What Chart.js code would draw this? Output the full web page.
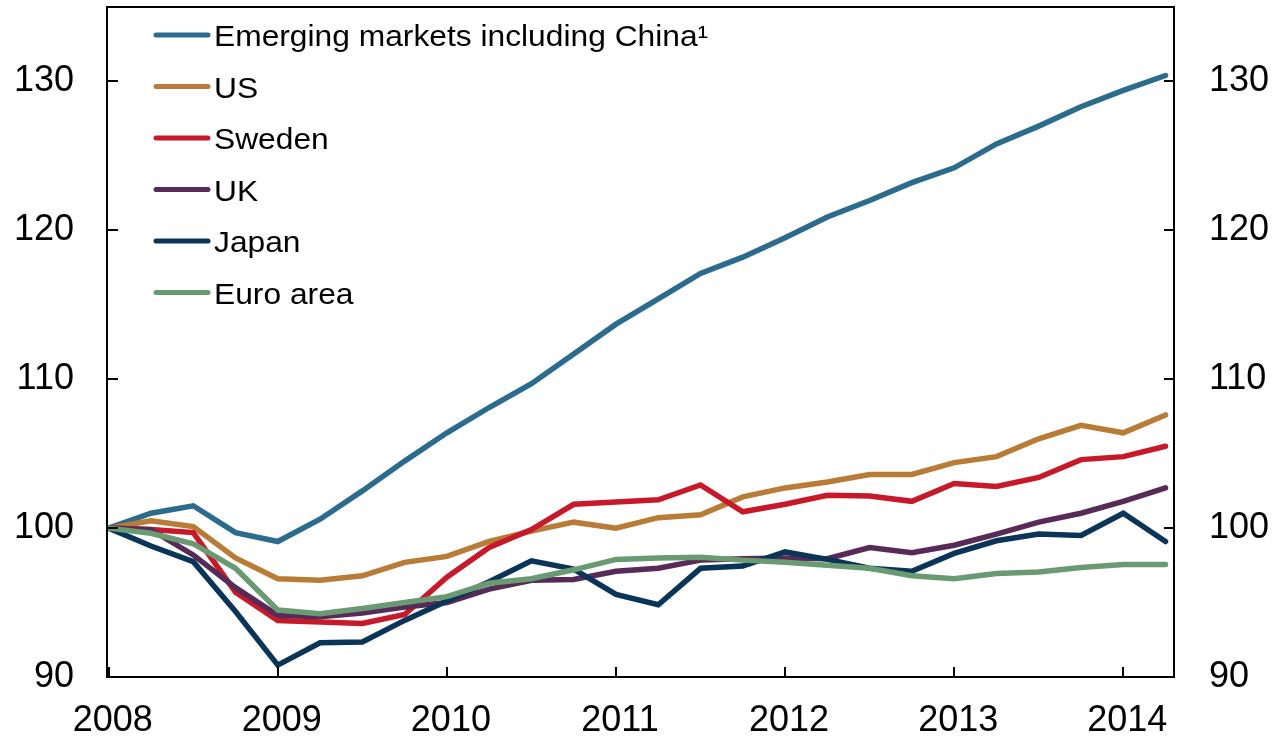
<!DOCTYPE html>
<html>
<head>
<meta charset="utf-8">
<script src="https://cdn.jsdelivr.net/npm/chart.js@4"></script>
<style>
  body { margin: 0; background: #fff; }
  #wrap { width: 1276px; height: 741px; position: relative; }
</style>
</head>
<body>
<div id="wrap"><canvas id="chart"></canvas></div>
<script>
const quarters = [
  "2008Q1", "2008Q2", "2008Q3", "2008Q4", "2009Q1", "2009Q2", "2009Q3", "2009Q4",
  "2010Q1", "2010Q2", "2010Q3", "2010Q4", "2011Q1", "2011Q2", "2011Q3", "2011Q4",
  "2012Q1", "2012Q2", "2012Q3", "2012Q4", "2013Q1", "2013Q2", "2013Q3", "2013Q4",
  "2014Q1", "2014Q2"
];
const yearTicks = [2008, 2009, 2010, 2011, 2012, 2013, 2014];
const valueTicks = [90, 100, 110, 120, 130];

const emerging = [100, 101.0, 101.5, 99.7, 99.1, 100.6, 102.5, 104.5, 106.4, 108.1, 109.7, 111.7, 113.7,
  115.4, 117.1, 118.2, 119.5, 120.9, 122.0, 123.2, 124.2, 125.8, 127.0, 128.3, 129.4, 130.4];
const us = [100, 100.5, 100.1, 98.0, 96.6, 96.5, 96.8, 97.7, 98.1, 99.1, 99.8, 100.4, 100.0,
  100.7, 100.9, 102.1, 102.7, 103.1, 103.6, 103.6, 104.4, 104.8, 106.0, 106.9, 106.4, 107.6];
const sweden = [100, 99.9, 99.7, 95.7, 93.8, 93.7, 93.6, 94.2, 96.7, 98.7, 99.9, 101.6, 101.75,
  101.9, 102.9, 101.1, 101.6, 102.2, 102.15, 101.8, 103.0, 102.8, 103.4, 104.6, 104.8, 105.5];
const uk = [100, 99.9, 98.2, 96.0, 94.15, 94.05, 94.3, 94.7, 95.0, 95.9, 96.5, 96.55, 97.1,
  97.3, 97.85, 97.95, 98.0, 97.95, 98.7, 98.35, 98.85, 99.6, 100.4, 101.0, 101.8, 102.7];
const japan = [100, 98.8, 97.75, 94.4, 90.8, 92.3, 92.35, 93.8, 95.1, 96.4, 97.8, 97.25, 95.55,
  94.85, 97.3, 97.45, 98.4, 97.9, 97.3, 97.1, 98.3, 99.15, 99.6, 99.5, 101.0, 99.1];
const euro = [100, 99.65, 98.95, 97.3, 94.5, 94.25, 94.6, 95.0, 95.4, 96.3, 96.6, 97.2, 97.9,
  98.0, 98.05, 97.85, 97.7, 97.5, 97.3, 96.8, 96.6, 96.95, 97.05, 97.35, 97.55, 97.55];

const seriesNames = ["Emerging markets including China\u00B9", "US", "Sweden", "UK", "Japan", "Euro area"];
const seriesData = [emerging, us, sweden, uk, japan, euro];
const seriesColors = ["#2b6b8e", "#b87c36", "#c8192b", "#572a58", "#0b3558", "#6a9a72"];

const FONT = "'Liberation Sans', Arial, sans-serif";

// quarter label -> position on the year axis
function quarterPos(q) {
  return parseInt(q.slice(0, 4)) + (parseInt(q.slice(5)) - 1) / 4;
}

function noPadding(s) {
  s.paddingTop = 0;
  s.paddingBottom = 0;
  s.paddingLeft = 0;
  s.paddingRight = 0;
}

const frameAndLegend = {
  id: "frameAndLegend",
  afterDraw(chart) {
    const ctx = chart.ctx;
    const a = chart.chartArea;
    const x = chart.scales.x;
    const y = chart.scales.y;
    ctx.save();
    ctx.strokeStyle = "#000";
    ctx.lineWidth = 2;
    ctx.strokeRect(a.left, a.top, a.right - a.left, a.bottom - a.top);

    // inward tick marks
    ctx.beginPath();
    valueTicks.forEach((v) => {
      const py = Math.round(y.getPixelForValue(v));
      ctx.moveTo(a.left, py);
      ctx.lineTo(a.left + 11, py);
      ctx.moveTo(a.right, py);
      ctx.lineTo(a.right - 10, py);
    });
    yearTicks.forEach((v) => {
      const px = Math.round(x.getPixelForValue(v));
      ctx.moveTo(px, a.bottom);
      ctx.lineTo(px, a.bottom - 10);
    });
    ctx.stroke();

    // legend
    ctx.font = "29px " + FONT;
    ctx.textBaseline = "alphabetic";
    ctx.textAlign = "left";
    ctx.lineCap = "round";
    seriesNames.forEach((name, i) => {
      const ly = 35 + i * 51.5;
      ctx.strokeStyle = seriesColors[i];
      ctx.lineWidth = 5;
      ctx.beginPath();
      ctx.moveTo(156, ly);
      ctx.lineTo(208, ly);
      ctx.stroke();
      ctx.fillStyle = "#000";
      ctx.save();
      ctx.translate(214, ly + 11);
      ctx.scale(1.095, 1);
      ctx.fillText(name, 0, 0);
      ctx.restore();
    });
    ctx.restore();
  },
};

const tickFont = { family: FONT, size: 36 };

new Chart(document.getElementById("chart"), {
  type: "line",
  data: {
    datasets: seriesNames.map((name, i) => ({
      label: name,
      data: quarters.map((q, j) => ({ x: quarterPos(q), y: seriesData[i][j] })),
      borderColor: seriesColors[i],
      backgroundColor: seriesColors[i],
      borderWidth: 5.5,
      pointRadius: 0,
      tension: 0,
      fill: false,
      borderCapStyle: "round",
      order: i === 0 ? 6 : 6 - i,
    })),
  },
  options: {
    responsive: true,
    maintainAspectRatio: false,
    animation: false,
    layout: { padding: { top: 7, left: 0, right: 0, bottom: 0 } },
    plugins: {
      legend: { display: false },
      tooltip: { enabled: false },
    },
    scales: {
      x: {
        type: "linear",
        min: 2007.99,
        max: 2014.3,
        grid: { display: false, drawTicks: false },
        border: { display: false },
        afterBuildTicks: (s) => {
          s.ticks = yearTicks.map((v) => ({ value: v }));
        },
        afterFit: (s) => {
          s.height = 64;
          noPadding(s);
        },
        ticks: {
          font: tickFont,
          color: "#000",
          padding: 22,
          labelOffset: 4,
          maxRotation: 0,
          autoSkip: false,
          callback: (v) => String(v),
        },
      },
      y: {
        position: "left",
        min: 90,
        max: 135,
        grid: { display: false, drawTicks: false },
        border: { display: false },
        afterBuildTicks: (s) => {
          s.ticks = valueTicks.map((v) => ({ value: v }));
        },
        afterFit: (s) => {
          s.width = 107;
          noPadding(s);
        },
        ticks: { font: tickFont, color: "#000", padding: 33, callback: (v) => String(v) },
      },
      y2: {
        position: "right",
        min: 90,
        max: 135,
        grid: { display: false, drawTicks: false },
        border: { display: false },
        afterBuildTicks: (s) => {
          s.ticks = valueTicks.map((v) => ({ value: v }));
        },
        afterFit: (s) => {
          s.width = 102;
          noPadding(s);
        },
        ticks: { font: tickFont, color: "#000", padding: 35, callback: (v) => String(v) },
      },
    },
  },
  plugins: [frameAndLegend],
});
</script>
</body>
</html>
